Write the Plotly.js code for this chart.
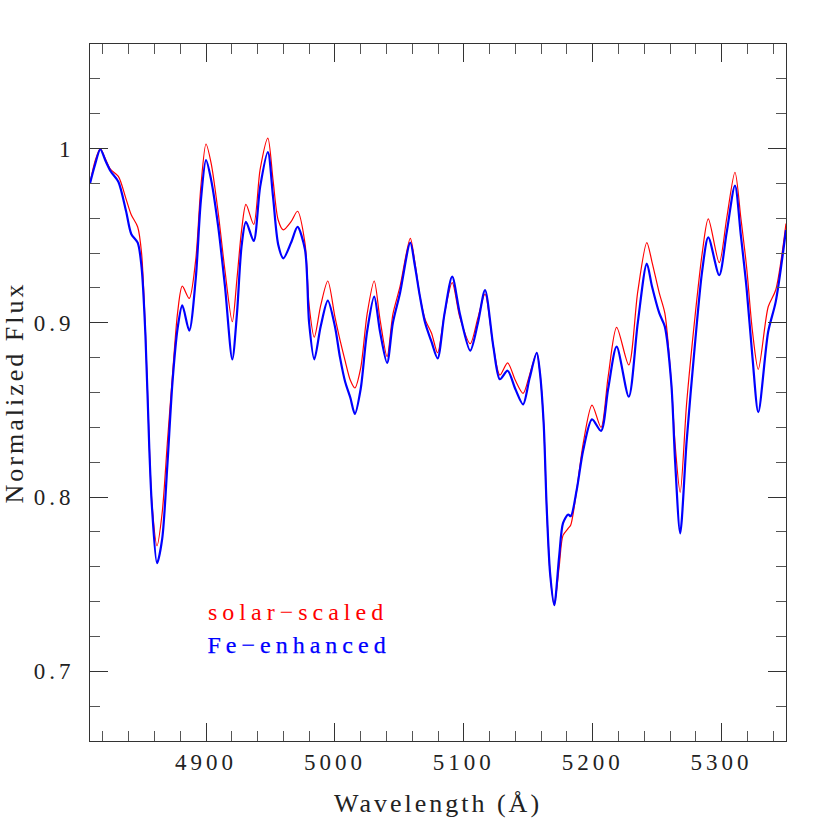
<!DOCTYPE html>
<html>
<head>
<meta charset="utf-8">
<script src="https://cdn.plot.ly/plotly-3.0.1.min.js"></script>
<style>
  body { margin: 0; background: #fff; }
  #chart { width: 830px; height: 830px; }
  /* wide spacing, like the plotting package's stroke font */
  #chart .xtick text, #chart .ytick text { letter-spacing: 4px; }
  #chart .g-xtitle text, #chart .g-ytitle text { letter-spacing: 3px; }
  #chart .annotation-text { letter-spacing: 5px; }
  /* the Fe label is drawn with the heavier pen, like its curve */
  #chart .annotation[data-index="1"] text { stroke: #0000ff; stroke-width: 0.25px; }
</style>
</head>
<body>
<div id="chart"></div>
<script>
// wavelength grid (Angstrom)
var wave = [4810, 4814, 4818, 4822, 4826, 4832, 4838, 4842, 4847, 4850,
  4853, 4856, 4858, 4862, 4866, 4870, 4874, 4878, 4881.6, 4887,
  4892, 4896, 4900, 4904, 4909.5, 4914.7, 4920.4, 4924, 4927.6, 4931,
  4937, 4942, 4948, 4952, 4956, 4960, 4966, 4971, 4976.8, 4980,
  4984, 4989, 4994.5, 5000, 5004, 5008, 5012, 5015.5, 5020, 5025,
  5030.5, 5035, 5040.5, 5045, 5050.5, 5058.5, 5062, 5066, 5070, 5075,
  5079.7, 5085, 5091, 5097, 5105, 5111, 5116.5, 5123, 5128, 5134,
  5140, 5146, 5151, 5156.6, 5159, 5162, 5164.3, 5167, 5170.2, 5174,
  5177, 5181, 5183, 5187.6, 5192.7, 5199.5, 5206.5, 5212, 5218.6, 5228,
  5235, 5242, 5246, 5251.7, 5256, 5261, 5264, 5267.9, 5272.9, 5279.4,
  5285, 5289.7, 5298.2, 5304, 5310.4, 5315, 5319.4, 5324, 5328.5, 5336.2,
  5342, 5350];

var fluxSolar = [0.980, 0.993, 1.000, 0.994, 0.988, 0.984, 0.971, 0.962, 0.955, 0.940,
  0.895, 0.830, 0.797, 0.772, 0.791, 0.831, 0.870, 0.906, 0.921, 0.914,
  0.936, 0.978, 1.0026, 0.9915, 0.963, 0.930, 0.9006, 0.925, 0.953, 0.968,
  0.9565, 0.988, 1.006, 0.982, 0.959, 0.9533, 0.958, 0.964, 0.9456, 0.910,
  0.8917, 0.910, 0.924, 0.9035, 0.890, 0.878, 0.867, 0.8626, 0.874, 0.905,
  0.924, 0.902, 0.8806, 0.905, 0.9207, 0.9485, 0.935, 0.915, 0.902, 0.894,
  0.8828, 0.905, 0.923, 0.903, 0.888, 0.903, 0.9165, 0.886, 0.870, 0.877,
  0.867, 0.8595, 0.870, 0.8828, 0.872, 0.842, 0.7945, 0.756, 0.738, 0.760,
  0.778, 0.782, 0.784, 0.804, 0.831, 0.8528, 0.840, 0.869, 0.8974, 0.8758,
  0.918, 0.946, 0.935, 0.917, 0.9055, 0.8653, 0.830, 0.8027, 0.8538, 0.9035,
  0.940, 0.9596, 0.9345, 0.960, 0.9864, 0.960, 0.9322, 0.895, 0.8733, 0.9092,
  0.9188, 0.957];

var fluxFe = [0.980, 0.991, 0.9996, 0.993, 0.987, 0.981, 0.964, 0.951, 0.946, 0.932,
  0.893, 0.828, 0.795, 0.762, 0.776, 0.818, 0.866, 0.897, 0.910, 0.8955,
  0.925, 0.970, 0.9934, 0.982, 0.955, 0.921, 0.879, 0.905, 0.944, 0.958,
  0.947, 0.978, 0.998, 0.9724, 0.945, 0.937, 0.946, 0.955, 0.942, 0.900,
  0.879, 0.898, 0.9127, 0.898, 0.880, 0.866, 0.857, 0.8477, 0.862, 0.895,
  0.915, 0.895, 0.877, 0.900, 0.917, 0.946, 0.933, 0.915, 0.900, 0.889,
  0.8796, 0.905, 0.9265, 0.905, 0.884, 0.900, 0.9188, 0.886, 0.8676, 0.8725,
  0.862, 0.8532, 0.868, 0.8828, 0.872, 0.842, 0.7945, 0.756, 0.738, 0.766,
  0.785, 0.790, 0.789, 0.804, 0.827, 0.8446, 0.838, 0.862, 0.8863, 0.8576,
  0.900, 0.934, 0.921, 0.9055, 0.8978, 0.8653, 0.820, 0.7792, 0.832, 0.888,
  0.930, 0.949, 0.9274, 0.952, 0.9787, 0.950, 0.920, 0.880, 0.8487, 0.895,
  0.912, 0.9533];

var seriesNames = ['solar\u2212scaled', 'Fe\u2212enhanced'];
var seriesColors = ['#ff0000', '#0000ff'];

var serif = 'Liberation Serif, Times New Roman, serif';
var tickFont = {family: serif, size: 23, color: '#222'};
var titleFont = {family: serif, size: 26, color: '#222'};

var solar = {
  x: wave, y: fluxSolar, type: 'scatter', mode: 'lines',
  name: seriesNames[0],
  line: {color: seriesColors[0], width: 1.2, shape: 'spline', smoothing: 0.8}
};
var fe = {
  x: wave, y: fluxFe, type: 'scatter', mode: 'lines',
  name: seriesNames[1],
  line: {color: seriesColors[1], width: 2.2, shape: 'spline', smoothing: 0.8}
};

var layout = {
  width: 830, height: 830,
  margin: {l: 90, r: 44, t: 44, b: 89},
  paper_bgcolor: '#fff', plot_bgcolor: '#fff',
  showlegend: false,
  xaxis: {
    range: [4810, 5350], dtick: 100, tick0: 4900,
    ticks: 'inside', ticklen: 18, tickwidth: 1, tickcolor: '#333',
    minor: {dtick: 20, ticks: 'inside', ticklen: 10, tickcolor: '#555'},
    showline: true, linecolor: '#333', linewidth: 1, mirror: 'allticks',
    showgrid: false, zeroline: false,
    tickfont: tickFont, ticklabelstandoff: 0,
    title: {text: 'Wavelength (\u00c5)', font: titleFont, standoff: 20}
  },
  yaxis: {
    range: [0.66, 1.06], dtick: 0.1, tick0: 0.7,
    ticks: 'inside', ticklen: 18, tickwidth: 1, tickcolor: '#333',
    minor: {dtick: 0.02, ticks: 'inside', ticklen: 10, tickcolor: '#555'},
    showline: true, linecolor: '#333', linewidth: 1, mirror: 'allticks',
    showgrid: false, zeroline: false,
    tickfont: tickFont, ticklabelstandoff: 10,
    title: {text: 'Normalized Flux', font: titleFont, standoff: 17}
  },
  annotations: [
    // x set a little right of 4900 so the spaced-out text starts at the 4900 tick
    {x: 4923, y: 0.734, xref: 'x', yref: 'y', xanchor: 'left', yanchor: 'middle',
     text: seriesNames[0], showarrow: false,
     font: {family: serif, size: 24, color: seriesColors[0]}},
    {x: 4921, y: 0.715, xref: 'x', yref: 'y', xanchor: 'left', yanchor: 'middle',
     text: seriesNames[1], showarrow: false,
     font: {family: serif, size: 24, color: seriesColors[1]}}
  ]
};

Plotly.newPlot('chart', [solar, fe], layout, {displayModeBar: false, staticPlot: true});
</script>
</body>
</html>
